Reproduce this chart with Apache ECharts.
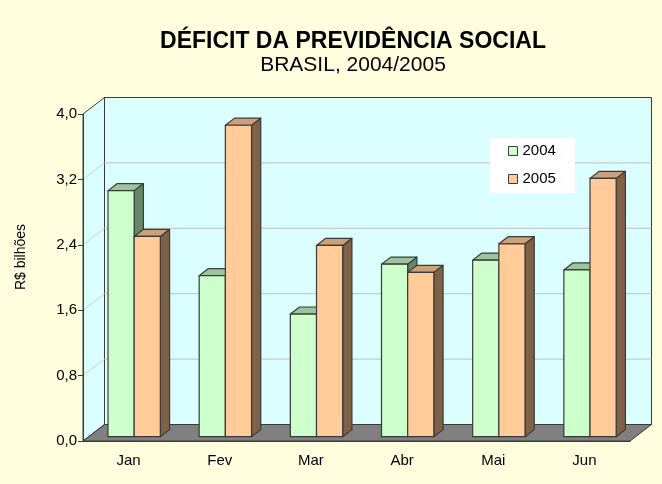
<!DOCTYPE html>
<html>
<head>
<meta charset="utf-8">
<script src="https://cdn.jsdelivr.net/npm/echarts@6/dist/echarts.min.js"></script>
<style>html,body{margin:0;padding:0;background:#FFFFE0;}#c{width:662px;height:484px;}</style>
</head>
<body>
<div id="c"></div>
<script>
var categories = ['Jan', 'Fev', 'Mar', 'Abr', 'Mai', 'Jun'];
var values2004 = [3.01, 1.97, 1.50, 2.11, 2.16, 2.04];
var values2005 = [2.45, 3.81, 2.34, 2.01, 2.36, 3.16];
var yTicks = [0, 0.8, 1.6, 2.4, 3.2, 4.0];
var seriesNames = ['2004', '2005'];

var DX = 21.5, DY = -16.5;          // depth of the 3D box
var BAR_F0 = 0.26, BAR_F1 = 0.69;   // bars occupy this depth range
var BAR_W = 0.287;                  // bar width as fraction of category
var EDGE = '#3a3a3a';
var FONT = 'Liberation Sans, Arial, sans-serif';

var faceColors = {
  '2004': {front: '#CCFFCC', top: '#9DC59D', side: '#668866'},
  '2005': {front: '#FFCC99', top: '#CCA179', side: '#7F6245'}
};

function fmt(v) { return v.toFixed(1).replace('.', ','); }

function wallsRender(params, api) {
  var cs = params.coordSys;
  var x = cs.x, y = cs.y, w = cs.width, h = cs.height;
  var children = [];
  children.push({type: 'polygon', shape: {points: [[x + DX, y + DY], [x + w + DX, y + DY], [x + w + DX, y + h + DY], [x + DX, y + h + DY]]},
    style: {fill: '#DBFFFF', stroke: EDGE, lineWidth: 1}});
  children.push({type: 'polygon', shape: {points: [[x, y], [x + DX, y + DY], [x + DX, y + h + DY], [x, y + h]]},
    style: {fill: '#DBFFFF', stroke: EDGE, lineWidth: 1}});
  for (var i = 1; i < yTicks.length - 1; i++) {
    var gy = api.coord([0, yTicks[i]])[1];
    children.push({type: 'line', shape: {x1: x + DX, y1: gy + DY, x2: x + w + DX, y2: gy + DY}, style: {stroke: '#C0C0C0', lineWidth: 1}});
    children.push({type: 'line', shape: {x1: x, y1: gy, x2: x + DX, y2: gy + DY}, style: {stroke: '#CFCFCF', lineWidth: 1}});
  }
  children.push({type: 'polygon', shape: {points: [[x, y + h], [x + DX, y + h + DY], [x + w + DX, y + h + DY], [x + w, y + h]]},
    style: {fill: '#808080', stroke: EDGE, lineWidth: 1}});
  return {type: 'group', children: children};
}

function makeBarRender(name, sideIndex) {
  var col = faceColors[name];
  return function (params, api) {
    var ci = api.value(0), v = api.value(1);
    var base = api.coord([ci, 0]);
    var top = api.coord([ci, v]);
    var cw = api.size([1, 0])[0];
    var bw = cw * BAR_W;
    var ox = DX * BAR_F0, oy = DY * BAR_F0;
    var dx = DX * (BAR_F1 - BAR_F0), dy = DY * (BAR_F1 - BAR_F0);
    var x0 = base[0] + ox + (sideIndex === 0 ? -bw : 0);
    var x1 = x0 + bw;
    var yb = base[1] + oy, yt = top[1] + oy;
    var st = {stroke: EDGE, lineWidth: 1.2, lineJoin: 'round'};
    return {type: 'group', children: [
      {type: 'polygon', shape: {points: [[x1, yt], [x1 + dx, yt + dy], [x1 + dx, yb + dy], [x1, yb]]}, style: Object.assign({fill: col.side}, st)},
      {type: 'polygon', shape: {points: [[x0, yt], [x0 + dx, yt + dy], [x1 + dx, yt + dy], [x1, yt]]}, style: Object.assign({fill: col.top}, st)},
      {type: 'rect', shape: {x: x0, y: yt, width: bw, height: yb - yt}, style: Object.assign({fill: col.front}, st)}
    ]};
  };
}

function toData(arr) { return arr.map(function (v, i) { return [i, v]; }); }

var chart = echarts.init(document.getElementById('c'), null, {renderer: 'canvas'});
chart.setOption({
  backgroundColor: '#FFFFE0',
  animation: false,
  textStyle: {fontFamily: FONT},
  title: {
    text: 'DÉFICIT DA PREVIDÊNCIA SOCIAL',
    subtext: 'BRASIL, 2004/2005',
    left: 348, top: 25, textAlign: 'center', itemGap: 2,
    textStyle: {fontSize: 23, fontWeight: 'bold', color: '#000', fontFamily: FONT},
    subtextStyle: {fontSize: 21, color: '#000', fontFamily: FONT}
  },
  graphic: [{
    type: 'text', x: 21, y: 257, rotation: Math.PI / 2,
    style: {text: 'R$ bilhões', fill: '#000', font: '14px ' + FONT, align: 'center', verticalAlign: 'middle'}
  }],
  legend: {
    orient: 'vertical', left: 490, top: 138,
    padding: [5, 19, 6, 18], itemGap: 12, itemWidth: 9, itemHeight: 9,
    backgroundColor: '#FFFFFF',
    textStyle: {fontSize: 15, color: '#000', lineHeight: 16},
    data: [
      {name: '2004', icon: 'rect', itemStyle: {color: '#CCFFCC', borderColor: EDGE, borderWidth: 1}},
      {name: '2005', icon: 'rect', itemStyle: {color: '#FFCC99', borderColor: EDGE, borderWidth: 1}}
    ]
  },
  grid: {left: 83, right: 32, top: 114, bottom: 43},
  xAxis: {
    type: 'category', data: categories, z: 5,
    axisLine: {lineStyle: {color: EDGE, width: 1}},
    axisTick: {length: 5, lineStyle: {color: EDGE}},
    axisLabel: {fontSize: 15, color: '#000', margin: 12}
  },
  yAxis: {
    type: 'value', min: 0, max: 4, interval: 0.8, z: 5,
    axisLine: {show: true, lineStyle: {color: EDGE, width: 1}},
    axisTick: {show: true, length: 5, lineStyle: {color: EDGE}},
    axisLabel: {fontSize: 15, color: '#000', margin: 6, formatter: fmt},
    splitLine: {show: false}
  },
  series: [
    {type: 'custom', name: 'walls', z: 1, silent: true, renderItem: wallsRender, data: [[0, 0]], clip: false},
    {type: 'custom', name: seriesNames[0], z: 2, renderItem: makeBarRender('2004', 0), data: toData(values2004),
      itemStyle: {color: '#CCFFCC'}, encode: {x: 0, y: 1}},
    {type: 'custom', name: seriesNames[1], z: 3, renderItem: makeBarRender('2005', 1), data: toData(values2005),
      itemStyle: {color: '#FFCC99'}, encode: {x: 0, y: 1}}
  ]
});
</script>
</body>
</html>
